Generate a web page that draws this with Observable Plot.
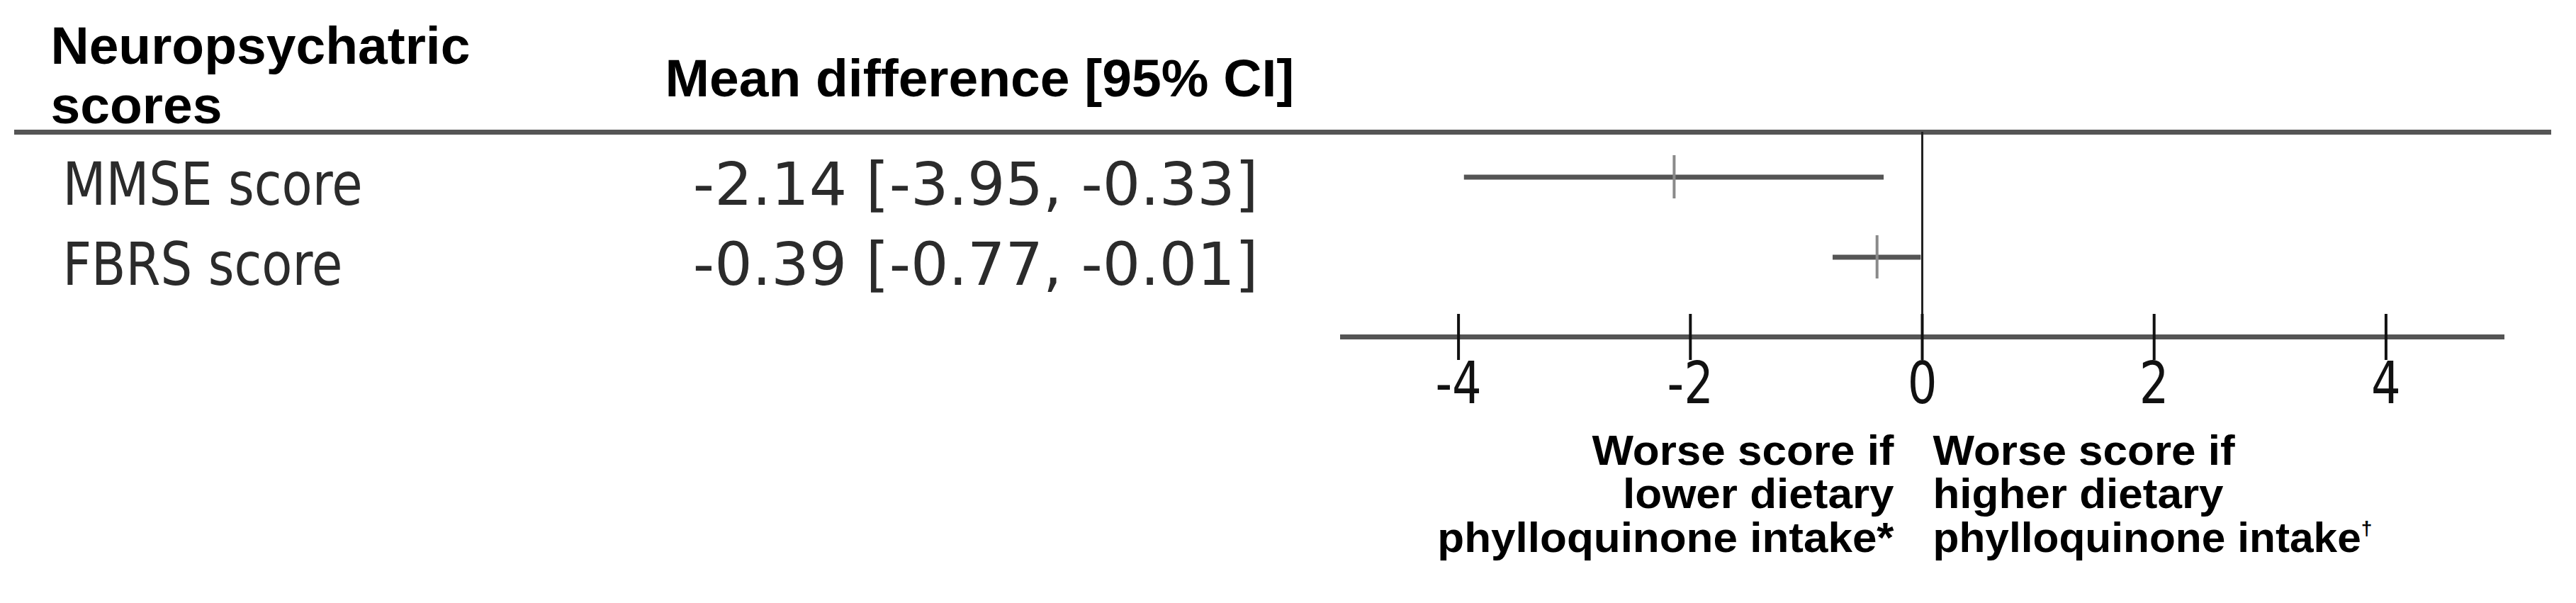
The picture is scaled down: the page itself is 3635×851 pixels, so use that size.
<!DOCTYPE html>
<html><head><meta charset="utf-8">
<script src="https://cdn.jsdelivr.net/npm/d3@7"></script>
<script src="https://cdn.jsdelivr.net/npm/@observablehq/plot@0.6"></script>
<style>html,body{margin:0;padding:0;background:#fff;} #chart svg{display:block;}</style>
</head><body><div id="chart"></div>
<script>
// ---- data ----
const outcomes = ["MMSE score", "FBRS score"];
const meanDiff = [-2.14, -0.39];
const ciLow = [-3.95, -0.77];
const ciHigh = [-0.33, -0.01];
const xTicks = [-4, -2, 0, 2, 4];
const xDomain = [-5, 5];
const headerLeft = "Neuropsychatric\nscores";
const headerMid = "Mean difference [95% CI]";
const noteLeft = "Worse score if\nlower dietary\nphylloquinone intake*";
const noteRight = "Worse score if\nhigher dietary\nphylloquinone intake†";

const rows = outcomes.map((name, i) => ({
  name, mean: meanDiff[i], lo: ciLow[i], hi: ciHigh[i],
  label: `${meanDiff[i].toFixed(2)} [${ciLow[i].toFixed(2)}, ${ciHigh[i].toFixed(2)}]`
}));

// ---- layout ----
const W = 3635, H = 851;
const frameTop = 186, axisY = 475;
const bold = "'Liberation Sans', Arial, sans-serif";
const rev = "'DejaVu Sans', Verdana, sans-serif";
const noteSize = 60;

const chart = Plot.plot({
  width: W, height: H,
  marginTop: frameTop, marginBottom: H - axisY, marginLeft: 0, marginRight: 0,
  style: {background: "#fff", overflow: "visible"},
  x: {domain: xDomain, range: [1894, 3530]},
  y: {type: "band", domain: outcomes, range: [192.5, 418.5], padding: 0, axis: null},
  marks: [
    Plot.frame({anchor: "top", stroke: "#555", strokeWidth: 7, insetLeft: 23, insetRight: 39}),
    Plot.frame({anchor: "bottom", stroke: "#555", strokeWidth: 7, insetLeft: 1894, insetRight: W - 3530}),
    Plot.ruleX([0], {stroke: "#222", strokeWidth: 3}),
    Plot.tickX(xTicks, {x: d => d, insetTop: 443 - frameTop, stroke: "#111", strokeWidth: 4}),
    Plot.axisX({ticks: xTicks, tickSize: 33, tickPadding: 2, tickFormat: d => String(d),
      fontSize: 82, fontFamily: rev, color: "#111", strokeWidth: 4, label: null}),
    Plot.ruleY(rows, {y: "name", x1: "lo", x2: "hi", stroke: "#555", strokeWidth: 7}),
    Plot.tickX(rows, {x: "mean", y: "name", stroke: "#8a8a8a", strokeWidth: 4, insetTop: 26, insetBottom: 26}),
    Plot.text(rows, {y: "name", text: "name", frameAnchor: "left", dx: 88, dy: 12, textAnchor: "start",
      fontSize: 84, fontFamily: rev, fill: "#2b2b2b"}),
    Plot.text(rows, {y: "name", text: "label", frameAnchor: "left", dx: 1775, dy: 12, textAnchor: "end",
      fontSize: 84, fontFamily: rev, fill: "#2b2b2b"}),
    Plot.text([headerLeft], {text: d => d, frameAnchor: "top-left", dx: 71, dy: 29.5 - frameTop,
      lineAnchor: "top", lineHeight: 84 / 75, textAnchor: "start", fontSize: 75, fontWeight: "bold",
      fontFamily: bold, fill: "#000"}),
    Plot.text([headerMid], {text: d => d, frameAnchor: "top-left", dx: 938, dy: 82 - frameTop,
      lineAnchor: "top", textAnchor: "start", fontSize: 75, fontWeight: "bold", fontFamily: bold, fill: "#000"}),
    Plot.text([noteLeft], {text: d => d, frameAnchor: "bottom-left", dx: 2672, dy: 654 - 0.71 * noteSize - axisY,
      lineAnchor: "top", lineHeight: 61.5 / noteSize, textAnchor: "end", fontSize: noteSize, fontWeight: "bold",
      fontFamily: bold, fill: "#000"}),
    Plot.text([noteRight], {text: d => d, frameAnchor: "bottom-left", dx: 2727, dy: 654 - 0.71 * noteSize - axisY,
      lineAnchor: "top", lineHeight: 61.5 / noteSize, textAnchor: "start", fontSize: noteSize, fontWeight: "bold",
      fontFamily: bold, fill: "#000"})
  ]
});

document.getElementById("chart").appendChild(chart);

const tickLabels = xTicks.map(String);
d3.select(chart).selectAll("text").each(function() {
  const t = this.textContent;
  let k = null;
  if (outcomes.includes(t)) k = 0.84;          // squeezed row labels
  else if (tickLabels.includes(t)) k = 0.8;    // narrow tick labels
  if (k) {
    const len = this.getComputedTextLength();
    this.setAttribute("textLength", len * k);
    this.setAttribute("lengthAdjust", "spacingAndGlyphs");
  }
});
// note lines: slightly widened bold text
const noteLines = [noteLeft, noteRight].flatMap(s => s.split("\n"));
const widen = 62 / noteSize;
d3.select(chart).selectAll("tspan").each(function() {
  const t = this.textContent;
  if (!noteLines.includes(t)) return;
  if (t.endsWith("†")) {
    this.textContent = t.slice(0, -1);
    this.setAttribute("textLength", this.getComputedTextLength() * widen);
    this.setAttribute("lengthAdjust", "spacingAndGlyphs");
    d3.select(this).append("tspan").attr("font-size", 28).attr("dy", -24).text("†");
  } else {
    this.setAttribute("textLength", this.getComputedTextLength() * widen);
    this.setAttribute("lengthAdjust", "spacingAndGlyphs");
  }
});
</script>
</body></html>
